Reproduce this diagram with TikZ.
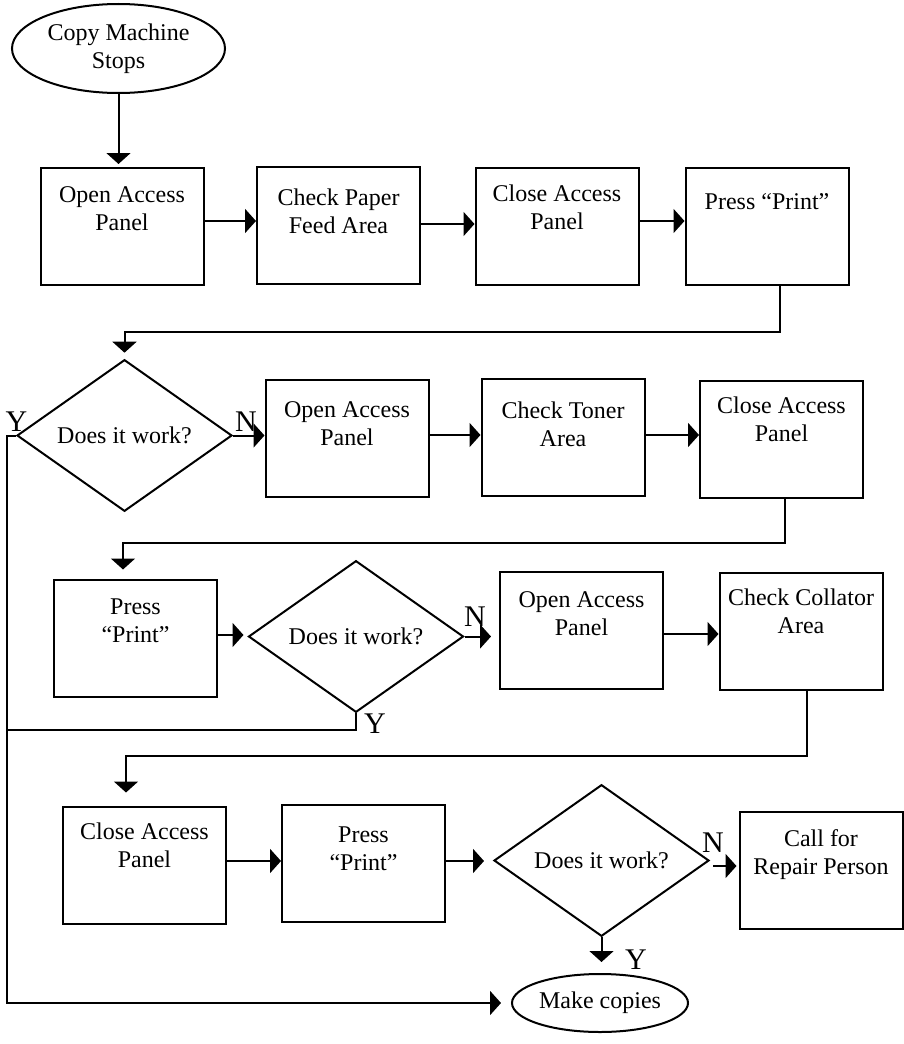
\documentclass[tikz,border=0pt]{standalone}
\usepackage{fontspec}
\setmainfont{Liberation Serif}
\usetikzlibrary{shapes.geometric,arrows.meta}
\begin{document}
\begin{tikzpicture}[x=1pt,y=-1pt,
  every node/.style={font=\fontsize{24}{28}\selectfont},
  box/.style={draw,line width=2pt,minimum width=163pt,minimum height=117pt,inner sep=0pt},
  txt/.style={align=center,inner sep=0pt},
  dec/.style={draw,diamond,line width=2pt,minimum width=215pt,minimum height=133pt,inner sep=0pt},
  term/.style={draw,ellipse,line width=2pt,inner sep=0pt,align=center},
  yn/.style={font=\fontsize{30}{30}\selectfont,inner sep=0pt},
  arr/.style={line width=2pt,-{Triangle[length=11pt,width=24pt]}},
  ln/.style={line width=2pt}]
\useasboundingbox (0,0) rectangle (904,1044);

% terminals
\node[term,minimum width=213pt,minimum height=89pt] (start) at (118.5,48.5) {Copy Machine\\Stops};
\node[term,minimum width=176pt,minimum height=58pt] (mc) at (600,1003) {Make copies};

% boxes
\node[box] (b1) at (122,226.5) {};
\node[box] (b2) at (338.5,225.5) {};
\node[box] (b3) at (557,226.5) {};
\node[box] (b4) at (767,226) {};
\node[box] (b5) at (347,438.5) {};
\node[box] (b6) at (563,437.5) {};
\node[box] (b7) at (781.5,439) {};
\node[box] (b8) at (135.5,638) {};
\node[box] (b9) at (581.5,630) {};
\node[box] (b10) at (801,631) {};
\node[box] (b11) at (144.5,865) {};
\node[box] (b12) at (363.5,863.5) {};
\node[box] (b13) at (821,870.5) {};

% box texts
\node[txt] (t1) at (122,209) {Open Access\\Panel};
\node[txt] (t2) at (338.5,211) {Check Paper\\Feed Area};
\node[txt] (t3) at (557,207) {Close Access\\Panel};
\node[txt] (t4) at (767,202) {Press “Print”};
\node[txt] (t5) at (347,424) {Open Access\\Panel};
\node[txt] (t6) at (563,424) {Check Toner\\Area};
\node[txt] (t7) at (781.5,419) {Close Access\\Panel};
\node[txt] (t8) at (135.5,621) {Press\\“Print”};
\node[txt] (t9) at (581.5,614) {Open Access\\Panel};
\node[txt] (t10) at (801,611) {Check Collator\\Area};
\node[txt] (t11) at (144.5,845) {Close Access\\Panel};
\node[txt] (t12) at (363.5,849) {Press\\“Print”};
\node[txt] (t13) at (821,855) {Call for\\Repair Person};

% decisions
\node[dec] (d1) at (124.5,435.5) {Does it work?};
\node[dec] (d2) at (356,636.5) {Does it work?};
\node[dec] (d3) at (601.5,860.5) {Does it work?};

% Y / N labels
\node[yn] (y1) at (16.5,422) {Y};
\node[yn] (n1) at (246,422) {N};
\node[yn] (n2) at (475,617) {N};
\node[yn] (y2) at (375,724) {Y};
\node[yn] (n3) at (713,843) {N};
\node[yn] (y3) at (636,960) {Y};

% helper coordinates
\coordinate (lane) at (7,1003);
\coordinate (j2) at (7,730);
\coordinate (a12) at ([yshift=5.5pt]b1.east);
\coordinate (a23) at ([yshift=1.5pt]b2.east);
\coordinate (a34) at ([yshift=5.5pt]b3.east);
\coordinate (a56) at ([yshift=3.5pt]b5.east);
\coordinate (a67) at ([yshift=2.5pt]b6.east);
\coordinate (a8d) at ([yshift=3pt]b8.east);
\coordinate (a910) at ([yshift=-4pt]b9.east);
\coordinate (a1112) at ([yshift=4pt]b11.east);
\coordinate (a12d) at ([yshift=2.5pt]b12.east);
\coordinate (an3) at ([xshift=3pt,yshift=-5.5pt]d3.east);

% connectors
\draw[arr,shorten >=3pt] (start.south) -- (start.south |- b1.north);
\draw[arr] (a12) -- (a12 -| b2.west);
\draw[arr] (a23) -- (a23 -| b3.west);
\draw[arr] (a34) -- (a34 -| b4.west);
\draw[arr,shorten >=6pt] ([xshift=13pt]b4.south) -- ++(0,46) -| (d1.north);
\draw[arr] (d1.east) -- (d1.east -| b5.west);
\draw[arr] (a56) -- (a56 -| b6.west);
\draw[arr] (a67) -- (a67 -| b7.west);
\draw[arr,shorten >=9pt] ([xshift=3.5pt]b7.south) -- ++(0,44) -| ([xshift=-12.5pt]b8.north);
\draw[arr,shorten >=4pt] (a8d) -- (a8d -| d2.west);
\draw[arr,shorten >=8pt] (d2.east) -- (d2.east -| b9.west);
\draw[arr] (a910) -- (a910 -| b10.west);
\draw[arr,shorten >=13pt] ([xshift=6pt]b10.south) -- ++(0,65) -| ([xshift=-18.5pt]b11.north);
\draw[arr] (a1112) -- (a1112 -| b12.west);
\draw[arr,shorten >=9pt] (a12d) -- (a12d -| d3.west);
\draw[arr,shorten >=2pt] (an3) -- (an3 -| b13.west);
\draw[arr,shorten >=11pt] (d3.south) -- (d3.south |- mc.north);
\draw[arr,shorten >=10pt] (d1.west) -| (lane) -- (mc.west);
\draw[ln] (d2.south) |- (j2);
\end{tikzpicture}
\end{document}
